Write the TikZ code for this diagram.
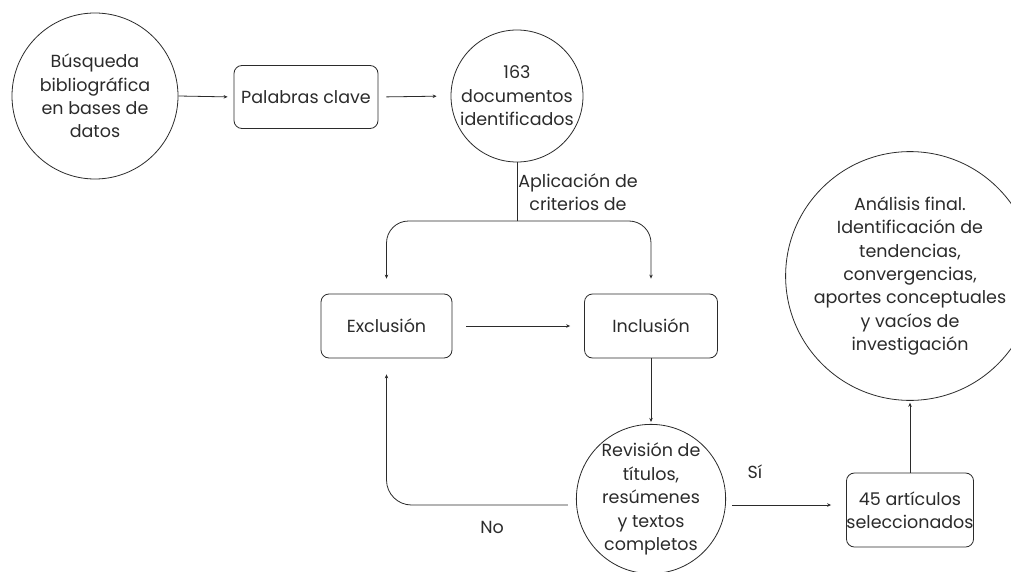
\documentclass[tikz,border=0pt]{standalone}
\usepackage{fontspec}
\setmainfont{Poppins}
\usetikzlibrary{arrows.meta,calc}
\definecolor{ink}{HTML}{2B2B2B}
\tikzset{
  txt/.style={font=\fontsize{17.5}{23.4}\selectfont, text=ink, align=center},
  circ/.style={txt, draw=ink, circle, inner sep=0pt, line width=0.8pt},
  rbox/.style={txt, draw=ink, rounded corners=8pt, inner sep=0pt, line width=0.8pt},
  conn/.style={draw=ink, line width=0.8pt},
  arr/.style={conn, -{Stealth[length=4pt,width=3.5pt]}},
}
\begin{document}
\begin{tikzpicture}[x=1pt,y=-1pt]
\useasboundingbox[fill=white] (0,0) rectangle (1011,572);
\node[circ, minimum size=166pt] (busq) at (95,96) {Búsqueda\\bibliográfica\\en bases de\\datos};
\node[rbox, minimum width=144pt, minimum height=63pt] (pal) at (306,97) {Palabras clave};
\node[circ, minimum size=132pt] (doc) at (517,96) {163\\documentos\\identificados};
\coordinate (split) at (517,221);
\node[txt] (apl) at (578,192) {Aplicación de\\criterios de};
\node[rbox, minimum width=131pt, minimum height=64pt] (excl) at (386.5,326) {Exclusión};
\node[rbox, minimum width=133pt, minimum height=64pt] (incl) at (651,326) {Inclusión};
\node[circ, minimum size=144pt] (rev) at (651,499) {Revisión de\\títulos,\\resúmenes\\y textos\\completos};
\node[rbox, minimum width=122pt, minimum height=74pt] (art) at (910,510) {45 artículos\\seleccionados};
\node[circ, minimum size=196pt] (ana) at (910,276) {Análisis final.\\Identificación de\\tendencias,\\convergencias,\\aportes conceptuales\\y vacíos de\\investigación};
\node[txt] (si) at (755,472) {Sí};
\node[txt] (no) at (492,527) {No};

\draw[arr, shorten >=6pt] (busq.east) -- (pal.west);
\draw[arr, shorten <=8pt, shorten >=14pt] (pal.east) -- (doc.west);
\draw[conn] (doc.south) -- (split);
\draw[arr, rounded corners=22pt, shorten >=15pt] (split) -| (excl.north);
\draw[arr, rounded corners=22pt, shorten >=15pt] (split) -| (incl.north);
\draw[arr, shorten <=14pt, shorten >=14pt] (excl.east) -- (incl.west);
\draw[arr, shorten >=2pt] (incl.south) -- (rev.north);
\draw[arr, rounded corners=25pt, shorten <=8pt, shorten >=16pt] ([yshift=-6pt]rev.west) -| (excl.south);
\draw[arr, shorten <=6pt, shorten >=15pt] ([yshift=-6pt]rev.east) -- ([yshift=-6pt]rev.east -| art.west);
\draw[arr, shorten >=2pt] (art.north) -- (ana.south);
\end{tikzpicture}
\end{document}
